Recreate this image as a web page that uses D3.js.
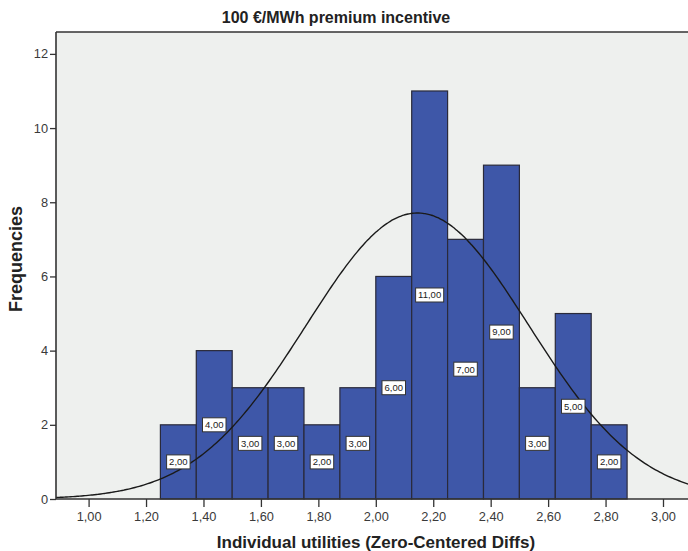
<!DOCTYPE html>
<html>
<head>
<meta charset="utf-8">
<script src="https://cdn.jsdelivr.net/npm/d3@7"></script>
<style>
  html, body { margin: 0; padding: 0; background: #ffffff; }
  svg { display: block; }
</style>
</head>
<body>
<div id="chart"></div>
<script>
  'use strict';

  const FONT_FAMILY = 'Liberation Sans, Arial, sans-serif';

  // Data.
  const binStarts = [1.25, 1.375, 1.5, 1.625, 1.75, 1.875, 2.0, 2.125, 2.25, 2.375, 2.5, 2.625, 2.75];
  const binWidth = 0.125;
  const counts = [2, 4, 3, 3, 2, 3, 6, 11, 7, 9, 3, 5, 2];
  const countLabels = ['2,00', '4,00', '3,00', '3,00', '2,00', '3,00', '6,00', '11,00', '7,00', '9,00', '3,00', '5,00', '2,00'];
  const xTicks = [1.0, 1.2, 1.4, 1.6, 1.8, 2.0, 2.2, 2.4, 2.6, 2.8, 3.0];
  const yTicks = [0, 2, 4, 6, 8, 10, 12];
  // Fitted normal curve parameters.
  const fitMean = 2.145;
  const fitSd = 0.388;

  const WIDTH = 688;
  const HEIGHT = 551;
  let margin = {top: 32, right: 0, bottom: 52, left: 56};
  let plotW = 640;
  let plotH = HEIGHT - margin.top - margin.bottom;

  let svg = d3.select('#chart')
    .append('svg')
    .attr('width', WIDTH)
    .attr('height', HEIGHT)
    .style('font-family', FONT_FAMILY);

  let x = d3.scaleLinear()
    .domain([0.8865, 0.8865 + plotW / 287.2])
    .range([0, plotW]);

  let y = d3.scaleLinear()
    .domain([0, 12.59])
    .range([plotH, 0]);

  svg.append('defs')
    .append('clipPath')
    .attr('id', 'plot-clip')
    .append('rect')
    .attr('width', plotW)
    .attr('height', plotH);

  let g = svg.append('g')
    .attr('transform', 'translate(' + margin.left + ',' + margin.top + ')');

  // Plot background.
  g.append('rect')
    .attr('width', plotW)
    .attr('height', plotH)
    .style('fill', '#eef0ee');

  let bars = binStarts.map(function (s, i) {
    return {x0: s, x1: s + binWidth, count: counts[i], label: countLabels[i]};
  });

  // Bars.
  g.selectAll('rect.bar')
    .data(bars)
    .enter()
    .append('rect')
    .attr('class', 'bar')
    .attr('x', function (d) { return x(d.x0); })
    .attr('y', function (d) { return y(d.count); })
    .attr('width', function (d) { return x(d.x1) - x(d.x0); })
    .attr('height', function (d) { return y(0) - y(d.count); })
    .style('fill', '#3e57a8')
    .style('stroke', '#2a2a3a')
    .style('stroke-width', 1.2);

  // Normal curve.
  let total = d3.sum(counts);
  let density = function (v) {
    let z = (v - fitMean) / fitSd;
    return total * binWidth / (fitSd * Math.sqrt(2 * Math.PI)) * Math.exp(-0.5 * z * z);
  };
  let curvePts = d3.range(0, 301).map(function (i) {
    let v = x.domain()[0] + (x.domain()[1] - x.domain()[0]) * i / 300;
    return [v, density(v)];
  });

  g.append('path')
    .datum(curvePts)
    .attr('clip-path', 'url(#plot-clip)')
    .attr('d', d3.line()
      .x(function (d) { return x(d[0]); })
      .y(function (d) { return y(d[1]); })
      .curve(d3.curveBasis))
    .style('fill', 'none')
    .style('stroke', '#1a1a1a')
    .style('stroke-width', 1.4);

  // Value labels in white boxes.
  let labels = g.selectAll('g.vlabel')
    .data(bars)
    .enter()
    .append('g')
    .attr('class', 'vlabel')
    .attr('transform', function (d) {
      return 'translate(' + x((d.x0 + d.x1) / 2) + ',' + y(d.count / 2) + ')';
    });

  labels.append('text')
    .attr('text-anchor', 'middle')
    .attr('dy', '0.35em')
    .style('font-size', '9.5px')
    .style('fill', '#222')
    .text(function (d) { return d.label; });

  labels.each(function () {
    let node = d3.select(this);
    let bb = node.select('text').node().getBBox();
    node.insert('rect', 'text')
      .attr('x', bb.x - 2.5)
      .attr('y', -7)
      .attr('width', bb.width + 5)
      .attr('height', 14)
      .style('fill', '#ffffff')
      .style('stroke', '#333')
      .style('stroke-width', 1);
  });

  // Axes.
  let xAxis = g.append('g')
    .attr('transform', 'translate(0,' + plotH + ')')
    .call(d3.axisBottom(x)
      .tickValues(xTicks)
      .tickSize(8)
      .tickPadding(5)
      .tickFormat(function (d) { return d3.format('.2f')(d).replace('.', ','); }));

  let yAxis = g.append('g')
    .call(d3.axisLeft(y)
      .tickValues(yTicks)
      .tickSize(6)
      .tickPadding(2)
      .tickFormat(d3.format('d')));

  [xAxis, yAxis].forEach(function (ax) {
    ax.select('.domain').remove();
    ax.selectAll('line').style('stroke', '#333').style('stroke-width', 1.3);
    ax.selectAll('text')
      .style('font-size', '12.8px')
      .style('font-family', FONT_FAMILY)
      .style('fill', '#3a3a3a');
  });

  // Frame lines (left and bottom axis, top border).
  g.append('line')
    .attr('x1', 0).attr('x2', 0)
    .attr('y1', 0).attr('y2', plotH)
    .style('stroke', '#333').style('stroke-width', 1.6);
  g.append('line')
    .attr('x1', 0).attr('x2', plotW)
    .attr('y1', plotH).attr('y2', plotH)
    .style('stroke', '#333').style('stroke-width', 1.6);
  g.append('line')
    .attr('x1', 0).attr('x2', plotW)
    .attr('y1', 0).attr('y2', 0)
    .style('stroke', '#333').style('stroke-width', 1.6);

  // Titles.
  svg.append('text')
    .attr('x', 336)
    .attr('y', 23)
    .attr('text-anchor', 'middle')
    .style('font-size', '16px')
    .style('font-weight', 'bold')
    .style('fill', '#222')
    .text('100 €/MWh premium incentive');

  svg.append('text')
    .attr('x', 376)
    .attr('y', 548)
    .attr('text-anchor', 'middle')
    .style('font-size', '17px')
    .style('font-weight', 'bold')
    .style('fill', '#222')
    .text('Individual utilities (Zero-Centered Diffs)');

  svg.append('text')
    .attr('transform', 'translate(22,' + 259 + ') rotate(-90)')
    .attr('text-anchor', 'middle')
    .style('font-size', '18px')
    .style('font-weight', 'bold')
    .style('fill', '#222')
    .text('Frequencies');
</script>
</body>
</html>
